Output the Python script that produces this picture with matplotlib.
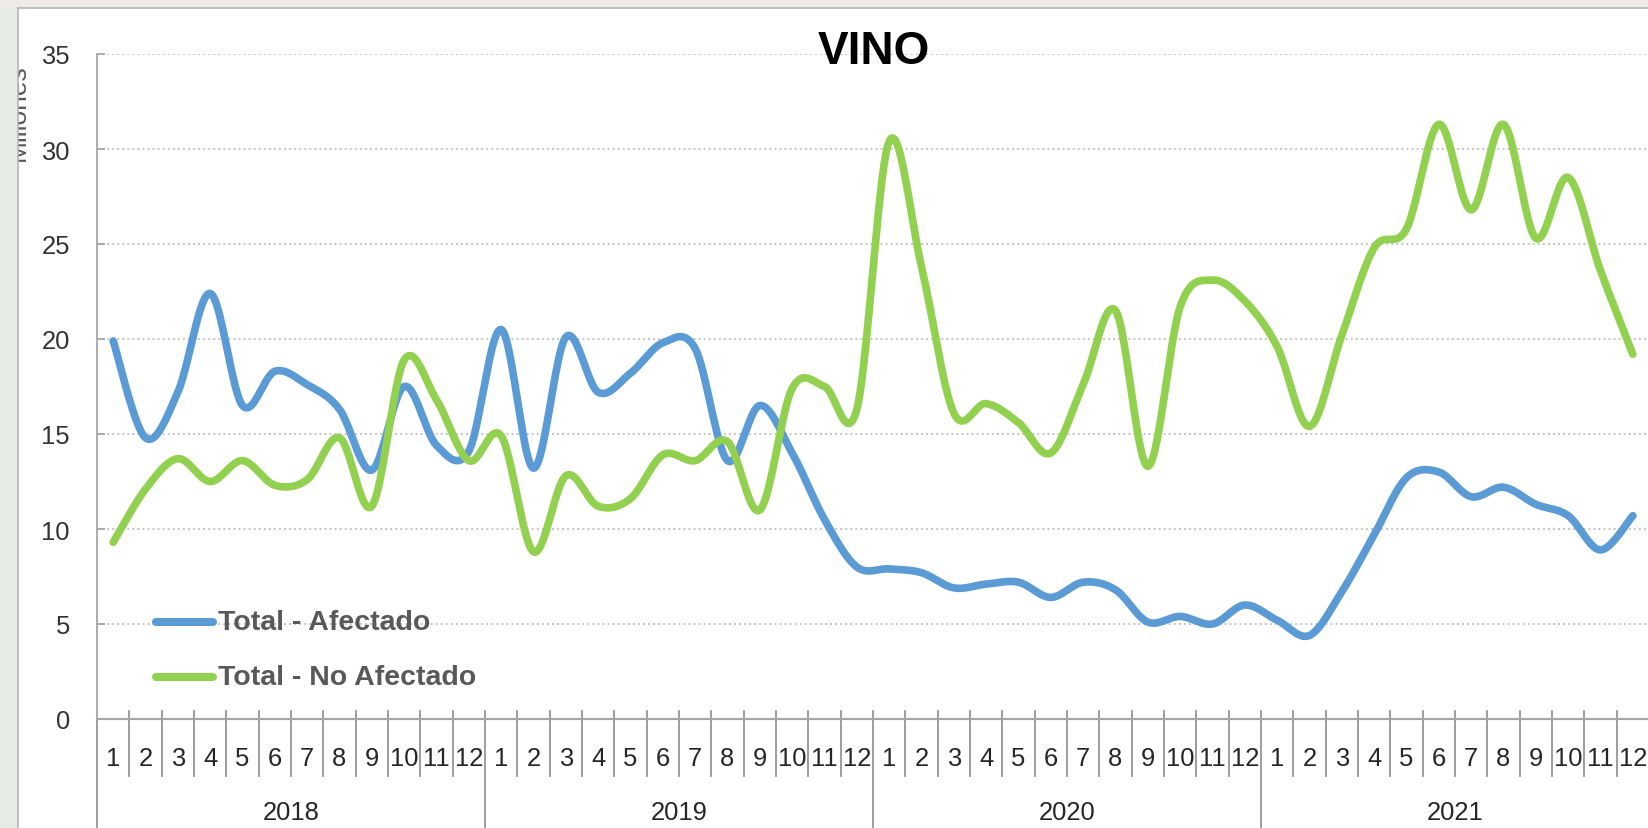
import numpy as np
import matplotlib
matplotlib.use("Agg")
import matplotlib.pyplot as plt
from matplotlib.patches import Rectangle
from matplotlib.transforms import blended_transform_factory

years = ["2018", "2019", "2020", "2021"]
months = [str(m) for m in range(1, 13)]

afectado = [19.9, 14.8, 17.2, 22.4, 16.5, 18.3, 17.6, 16.3, 13.1, 17.5, 14.4, 14.1,
            20.5, 13.2, 20.1, 17.2, 18.2, 19.8, 19.5, 13.6, 16.5, 14.0, 10.5, 8.0,
            7.9, 7.7, 6.9, 7.1, 7.2, 6.4, 7.2, 6.8, 5.1, 5.4, 5.0, 6.0,
            5.2, 4.4, 6.7, 9.7, 12.7, 13.0, 11.7, 12.2, 11.3, 10.7, 8.9, 10.7]

no_afectado = [9.3, 12.1, 13.7, 12.5, 13.6, 12.3, 12.6, 14.8, 11.2, 18.9, 16.8, 13.6,
               14.9, 8.8, 12.8, 11.2, 11.6, 13.9, 13.6, 14.6, 11.0, 17.4, 17.5, 16.3,
               30.4, 23.8, 16.1, 16.6, 15.6, 14.0, 17.6, 21.5, 13.3, 21.7, 23.1, 22.0,
               19.6, 15.4, 20.2, 24.8, 25.8, 31.3, 26.8, 31.3, 25.3, 28.5, 23.6, 19.2]

series_names = ["Total - Afectado", "Total - No Afectado"]
colors = ["#5B9BD5", "#92D050"]

W, H = 1649, 829
fig = plt.figure(figsize=(W / 100, H / 100), dpi=100)
fig.patch.set_facecolor("white")

FONT = ["Liberation Sans", "DejaVu Sans"]


def smooth(xs, ys, n=24):
    xs = np.asarray(xs, float)
    ys = np.asarray(ys, float)
    P = np.column_stack([xs, ys])
    out = []
    m = len(P)
    for i in range(m - 1):
        p0 = P[i - 1] if i > 0 else P[i]
        p1 = P[i]
        p2 = P[i + 1]
        p3 = P[i + 2] if i + 2 < m else P[i + 1]
        c1 = p1 + (p2 - p0) / 6.0
        c2 = p2 - (p3 - p1) / 6.0
        t = np.linspace(0, 1, n, endpoint=(i == m - 2))[:, None]
        seg = ((1 - t) ** 3) * p1 + 3 * ((1 - t) ** 2) * t * c1 + 3 * (1 - t) * t ** 2 * c2 + t ** 3 * p2
        out.append(seg)
    out = np.vstack(out)
    return out[:, 0], out[:, 1]


# axes placement (pixels)
x0, x1 = 97, 1649
ytop, ybot = 55, 720
ax = fig.add_axes([x0 / W, (H - ybot) / H, (x1 - x0) / W, (ybot - ytop) / H])
ax.set_facecolor("none")

n = len(years) * len(months)
xpos = np.arange(n) + 0.5
for vals, col in zip([afectado, no_afectado], colors):
    sx, sy = smooth(xpos, vals)
    ax.plot(sx, sy, color=col, lw=5.5, solid_capstyle="round", solid_joinstyle="round", zorder=3)

ax.set_xlim(0, n)
ax.set_ylim(0, 35)
ax.set_yticks(np.arange(0, 36, 5))
ax.yaxis.grid(True, color="#c4c4c4", linestyle=(0, (1, 1.6)), lw=1.4)
ax.set_axisbelow(True)
for s in ["top", "right"]:
    ax.spines[s].set_visible(False)
ax.spines["left"].set_color("#a6a6a6")
ax.spines["left"].set_linewidth(1.3)
ax.spines["bottom"].set_color("#a6a6a6")
ax.spines["bottom"].set_linewidth(1.6)
ax.tick_params(axis="y", direction="in", length=6, width=1.3, color="#a6a6a6",
               labelsize=18.4, labelcolor="#333333", pad=19.5)
for lab in ax.get_yticklabels():
    lab.set_family(FONT)
ax.set_xticks([])

# category axis (months and years)
ph = ybot - ytop
tr = blended_transform_factory(ax.transData, ax.transAxes)
for i in range(1, n + 1):
    ylow = -(H - ybot) / ph if i % 12 == 0 else -57 / ph
    ax.plot([i, i], [8 / ph, ylow], transform=tr, color="#8c8c8c", lw=1.2, clip_on=False)
ax.plot([0, 0], [0, -(H - ybot) / ph], transform=tr, color="#8c8c8c", lw=1.2, clip_on=False)
for i in range(n):
    ax.text(i + 0.5, -39 / ph, months[i % 12], transform=tr, ha="center", va="center",
            fontsize=18.4, color="#262626", family=FONT)
for k, y in enumerate(years):
    ax.text(12 * k + 6, -93 / ph, y, transform=tr, ha="center", va="center",
            fontsize=18.4, color="#262626", family=FONT)

# legend (manual, inside plot)
for j, (name, col) in enumerate(zip(series_names, colors)):
    yy = [623, 678][j]
    ya = (ybot - yy) / ph
    ax.plot([(156 - x0) / (x1 - x0), (213 - x0) / (x1 - x0)], [ya, ya], transform=ax.transAxes,
            color=col, lw=5.8, solid_capstyle="round", clip_on=False, zorder=4)
    ax.text((218 - x0) / (x1 - x0), ya, name, transform=ax.transAxes, ha="left", va="center",
            fontsize=20.5, fontweight="bold", color="#595959", family=FONT, zorder=4)

# title
fig.text(874 / W, 1 - 52 / H, "VINO", ha="center", va="center", fontsize=33,
         fontweight="bold", color="black", family=FONT)

# clipped y-axis unit label
fig.text(25 / W, 1 - 113 / H, "Millones", rotation=90, rotation_mode="anchor",
         ha="center", va="baseline", fontsize=19, color="#595959", family=FONT, zorder=1)

# surrounding background (outside chart panel)
fig.patches.append(Rectangle((0, 0), 18 / W, 1, transform=fig.transFigure,
                             facecolor="#e7ebe6", edgecolor="none", zorder=10))
fig.patches.append(Rectangle((0, 1 - 9 / H), 1, 9 / H, transform=fig.transFigure,
                             facecolor="#efe9e7", edgecolor="none", zorder=10))
fig.lines.append(plt.Line2D([18 / W, 18 / W], [0, 1 - 9 / H], transform=fig.transFigure,
                            color="#b5b5b5", lw=1.2, zorder=11))
fig.lines.append(plt.Line2D([18 / W, 1], [1 - 9 / H, 1 - 9 / H], transform=fig.transFigure,
                            color="#b5b5b5", lw=1.2, zorder=11))

fig.savefig("out.png", dpi=100)
